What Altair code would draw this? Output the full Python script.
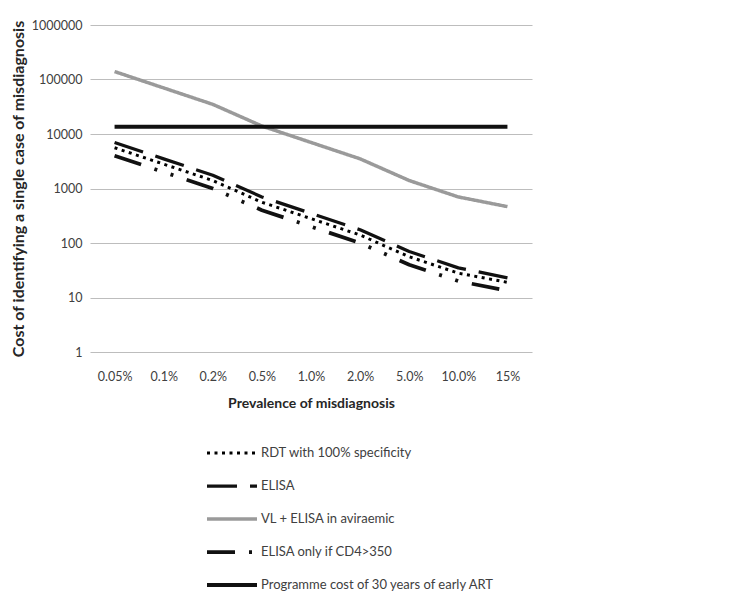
import altair as alt
import pandas as pd

categories = ["0.05%", "0.1%", "0.2%", "0.5%", "1.0%", "2.0%", "5.0%", "10.0%", "15%"]

series_names = [
    "RDT with 100% specificity",
    "ELISA",
    "VL + ELISA in aviraemic",
    "ELISA only if CD4>350",
    "Programme cost of 30 years of early ART",
]

rdt = [5600, 2800, 1400, 560, 280, 140, 56, 28, 19]
elisa = [7000, 3500, 1750, 700, 350, 175, 70, 35, 23]
vl_elisa = [140000, 70000, 35000, 14000, 7000, 3500, 1400, 700, 465]
elisa_cd4 = [4000, 2000, 1000, 400, 200, 100, 40, 20, 13.3]
programme = [13600, 13600, 13600, 13600, 13600, 13600, 13600, 13600, 13600]

y_ticks = [1, 10, 100, 1000, 10000, 100000, 1000000]

colors = ["#000000", "#111111", "#9a9a9a", "#111111", "#111111"]
dashes = [[3, 4.5], [30, 13], [1, 0], [28, 14, 3, 14, 3, 14], [1, 0]]
widths = [3, 4, 3, 4, 4.5]

rows = []
for name, vals in zip(series_names, [rdt, elisa, vl_elisa, elisa_cd4, programme]):
    for c, v in zip(categories, vals):
        rows.append({"prev": c, "cost": v, "series": name})
df = pd.DataFrame(rows)

FONT = "Lato"

chart = (
    alt.Chart(df)
    .mark_line(strokeCap="butt", strokeJoin="round")
    .encode(
        x=alt.X(
            "prev:O",
            sort=categories,
            scale=alt.Scale(type="point", padding=0.5),
            axis=alt.Axis(
                title="Prevalence of misdiagnosis",
                labelAngle=0,
                ticks=False,
                domain=False,
                grid=False,
                labelPadding=18,
                titlePadding=14,
                titleFontSize=14,
            ),
        ),
        y=alt.Y(
            "cost:Q",
            scale=alt.Scale(type="log", domain=[1, 1000000], nice=False),
            axis=alt.Axis(
                title="Cost of identifying a single case of misdiagnosis",
                values=y_ticks,
                format="d",
                ticks=False,
                domain=False,
                grid=True,
                gridColor="#bdbdbd",
                gridWidth=1.2,
                labelPadding=8,
                titlePadding=5,
                titleFontSize=16,
            ),
        ),
        color=alt.Color(
            "series:N",
            sort=series_names,
            scale=alt.Scale(domain=series_names, range=colors),
            legend=alt.Legend(
                title=None,
                orient="none",
                legendX=115,
                legendY=420,
                direction="vertical",
                symbolType="stroke",
                symbolSize=2500,
                symbolStrokeWidth=4,
                clipHeight=16,
                rowPadding=17,
                labelOffset=2,
                labelFont=FONT,
                labelFontSize=13,
                labelColor="#404040",
                labelLimit=400,
            ),
        ),
        strokeDash=alt.StrokeDash(
            "series:N",
            sort=series_names,
            scale=alt.Scale(domain=series_names, range=dashes),
            legend=None,
        ),
        strokeWidth=alt.StrokeWidth(
            "series:N",
            sort=series_names,
            scale=alt.Scale(domain=series_names, range=widths),
            legend=None,
        ),
    )
    .properties(width=442, height=327, padding={"left": 2, "top": 11, "right": 10, "bottom": 0})
    .configure_view(stroke=None)
    .configure_axis(
        labelFont=FONT,
        labelFontSize=12.5,
        labelColor="#404040",
        titleFont=FONT,
        titleFontWeight="bold",
        titleColor="#262626",
    )
)

chart.save("out.html", embed_options={"renderer": "svg", "actions": False})
